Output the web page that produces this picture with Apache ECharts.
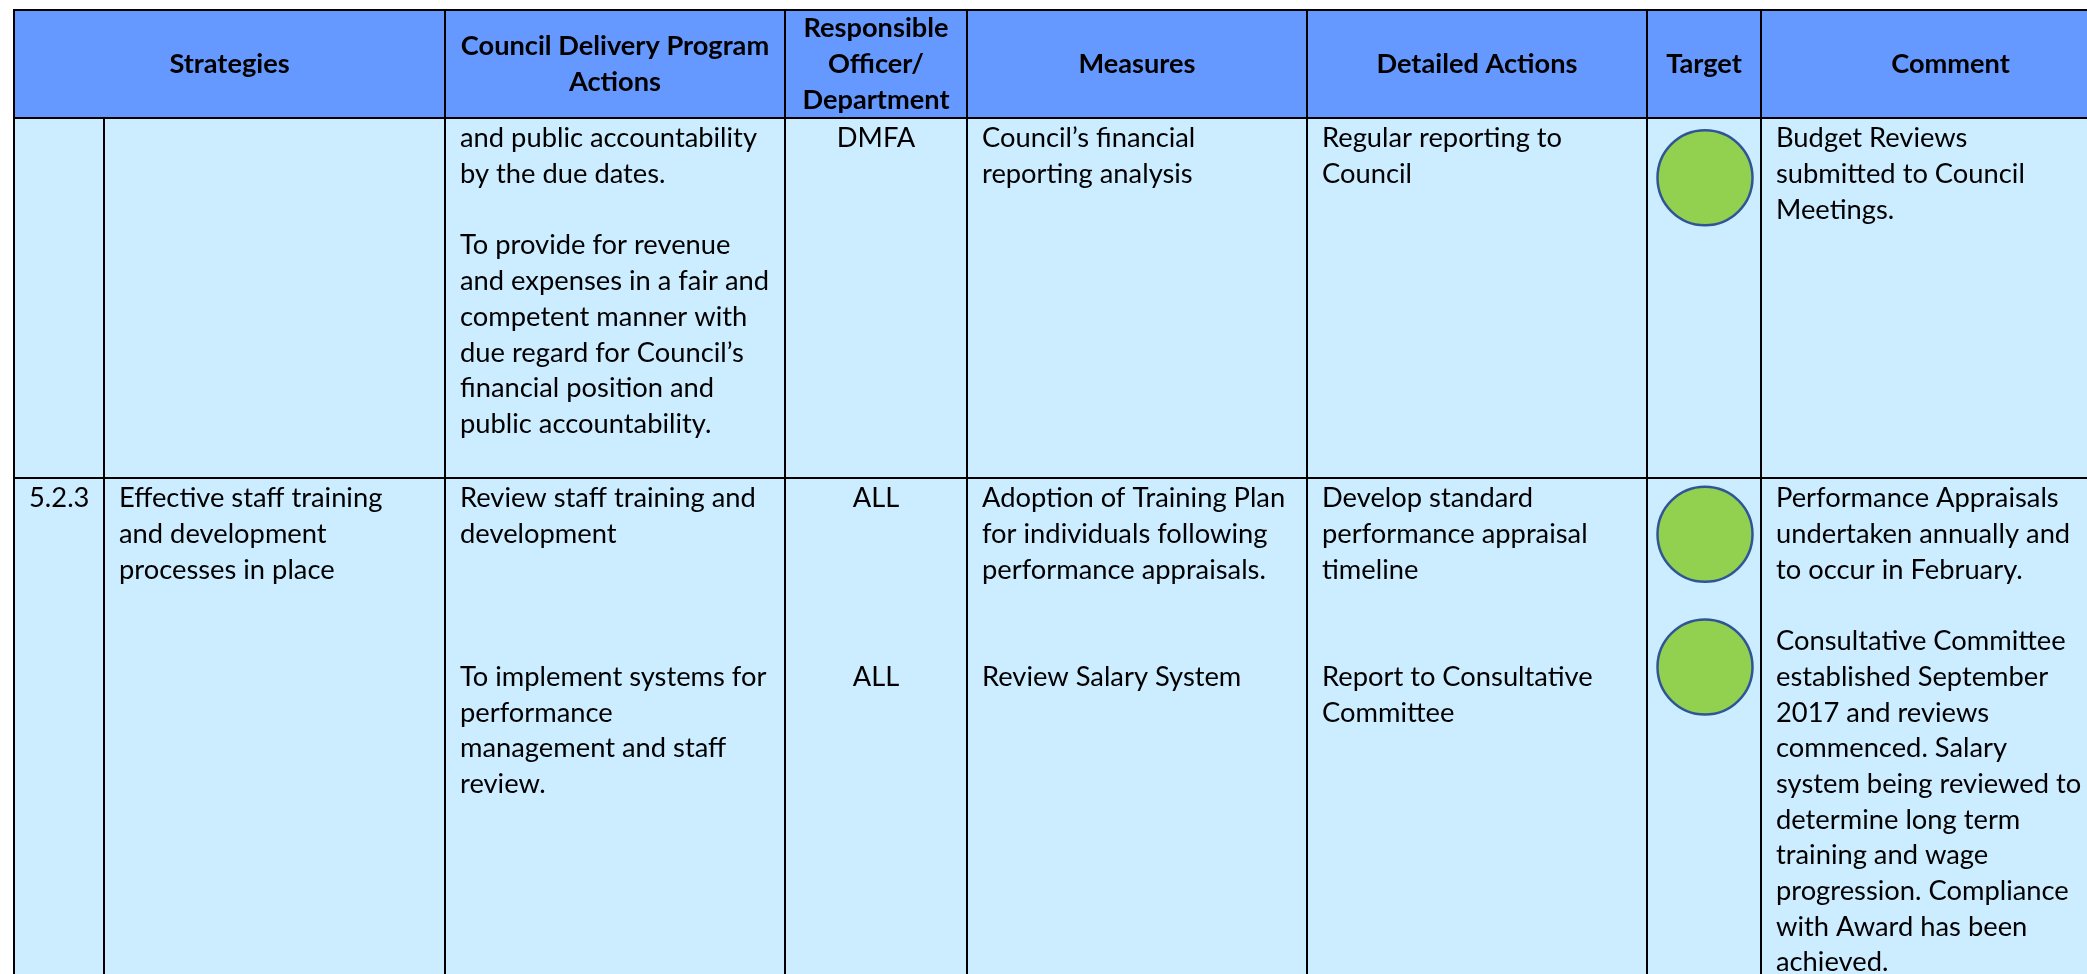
<!DOCTYPE html>
<html><head><meta charset="utf-8">
<script src="https://cdn.jsdelivr.net/npm/echarts@6/dist/echarts.min.js"></script>
<style>html,body{margin:0;padding:0;background:#fff;overflow:hidden}#c{width:2087px;height:974px;}</style>
</head><body><div id="c"></div>
<script>
// ---------------- DATA ----------------
const headers = ["Strategies", "Council Delivery Program\nActions", "Responsible\nOfficer/\nDepartment", "Measures", "Detailed Actions", "Target", "Comment"];
const codes = ["", "5.2.3"];
const strategies = ["", "Effective staff training\nand development\nprocesses in place"];
const deliveryActions = [
  "and public accountability\nby the due dates.\n\nTo provide for revenue\nand expenses in a fair and\ncompetent manner with\ndue regard for Council\u2019s\nfinancial position and\npublic accountability.",
  "Review staff training and\ndevelopment\n\n\n\nTo implement systems for\nperformance\nmanagement and staff\nreview."
];
const officers = ["DMFA", "ALL\n\n\n\n\nALL"];
const measures = [
  "Council\u2019s financial\nreporting analysis",
  "Adoption of Training Plan\nfor individuals following\nperformance appraisals.\n\n\nReview Salary System"
];
const detailedActions = [
  "Regular reporting to\nCouncil",
  "Develop standard\nperformance appraisal\ntimeline\n\n\nReport to Consultative\nCommittee"
];
const targetStatus = [["green"], ["green", "green"]];
const comments = [
  "Budget Reviews\nsubmitted to Council\nMeetings.",
  "Performance Appraisals\nundertaken annually and\nto occur in February.\n\nConsultative Committee\nestablished September\n2017 and reviews\ncommenced. Salary\nsystem being reviewed to\ndetermine long term\ntraining and wage\nprogression. Compliance\nwith Award has been\nachieved."
];

// ---------------- LAYOUT / STYLE ----------------
const W = 2087, H = 974;
const colEdges = [14, 104, 445, 785, 967, 1307, 1647, 1761, 2140];
const rowEdges = [10, 118, 478, 1010];
const LINE = 35.7, FIRST = 20.5, PAD = 15;
const targetLinePos = [[1.1], [1.0, 4.72]];
const HEAD_BG = '#6699FF', BODY_BG = '#CCECFF';
const STATUS_COLOR = { green: '#92D050' };
const FAMILY = 'Lato, "Open Sans", sans-serif';

function fit(texts, weight, target) {
  const cv = document.createElement('canvas').getContext('2d');
  cv.font = weight + ' 100px ' + FAMILY;
  let w = 0; texts.forEach(t => w += cv.measureText(t).width);
  return 100 * target / w;
}
const bodySize = fit(['Performance Appraisals', 'undertaken annually and'], 'normal', 282 + 295);
const headSize = fit(['Strategies', 'Comment'], 'bold', 121 + 118);

// build cell descriptors
const cells = [];
headers.forEach((h, i) => {
  const c0 = i === 0 ? 0 : i + 1, c1 = i + 2;
  cells.push({ c0, c1, r: 0, text: h, align: 'center', bold: true, head: true });
});
const bodyCols = [
  [codes, 'left'], [strategies, 'left'], [deliveryActions, 'left'], [officers, 'center'],
  [measures, 'left'], [detailedActions, 'left'], [null, 'center'], [comments, 'left']
];
for (let r = 0; r < 2; r++) {
  bodyCols.forEach(([arr, align], c) => {
    cells.push({ c0: c, c1: c + 1, r: r + 1, text: arr ? arr[r] : '', align, bold: false, head: false });
  });
}

const chart = echarts.init(document.getElementById('c'), null, { renderer: 'canvas' });

function renderCell(params, api) {
  const cell = cells[params.dataIndex];
  const p0 = api.coord([colEdges[cell.c0], rowEdges[cell.r]]);
  const p1 = api.coord([colEdges[cell.c1], rowEdges[cell.r + 1]]);
  const children = [{
    type: 'rect', shape: { x: p0[0], y: p0[1], width: p1[0] - p0[0], height: p1[1] - p0[1] },
    style: { fill: cell.head ? HEAD_BG : BODY_BG }, z2: 0
  }];
  const lines = cell.text.split('\n');
  lines.forEach((ln, i) => {
    if (!ln) return;
    let y;
    if (cell.head) {
      const mid = (p0[1] + p1[1]) / 2;
      y = mid + (i - (lines.length - 1) / 2) * 36;
    } else {
      y = p0[1] + FIRST + i * LINE;
    }
    const x = cell.align === 'center' ? (p0[0] + p1[0]) / 2 : p0[0] + PAD;
    children.push({
      type: 'text', x, y, z2: 2,
      style: {
        text: ln, fill: '#000', align: cell.align, verticalAlign: 'middle',
        font: (cell.bold ? 'bold ' : '') + (cell.head ? headSize : bodySize).toFixed(2) + 'px ' + FAMILY
      }
    });
  });
  return { type: 'group', children };
}

function renderBorders(params, api) {
  const ch = [];
  const lw = 2;
  [rowEdges[0], rowEdges[1], rowEdges[2]].forEach(y => {
    const a = api.coord([colEdges[0] - 1, y]), b = api.coord([W, y]);
    ch.push({ type: 'line', shape: { x1: a[0], y1: a[1], x2: b[0], y2: b[1] }, style: { stroke: '#000', lineWidth: lw } });
  });
  for (let i = 0; i < 8; i++) {
    const yTop = i === 1 ? rowEdges[1] : rowEdges[0];
    const a = api.coord([colEdges[i], yTop]), b = api.coord([colEdges[i], H]);
    ch.push({ type: 'line', shape: { x1: a[0], y1: a[1], x2: b[0], y2: b[1] }, style: { stroke: '#000', lineWidth: lw } });
  }
  return { type: 'group', children: ch };
}

const circleData = [];
targetStatus.forEach((arr, r) => {
  arr.forEach((s, k) => {
    circleData.push({
      value: [(colEdges[6] + colEdges[7]) / 2 + 1, rowEdges[r + 1] + FIRST + targetLinePos[r][k] * LINE],
      itemStyle: { color: STATUS_COLOR[s] }
    });
  });
});

chart.setOption({
  animation: false,
  backgroundColor: '#fff',
  grid: { left: 0, right: 0, top: 0, bottom: 0 },
  xAxis: { type: 'value', min: 0, max: W, show: false },
  yAxis: { type: 'value', min: 0, max: H, inverse: true, show: false },
  series: [
    { type: 'custom', name: 'cells', renderItem: renderCell, data: cells.map((c, i) => [i]), clip: false, z: 1, silent: true },
    { type: 'custom', name: 'borders', renderItem: renderBorders, data: [[0]], clip: false, z: 3, silent: true },
    { type: 'scatter', name: 'target', data: circleData, symbol: 'circle', symbolSize: 95,
      itemStyle: { borderColor: '#2F5597', borderWidth: 2.5, opacity: 1 }, z: 5, silent: true }
  ]
});
</script>
</body></html>
